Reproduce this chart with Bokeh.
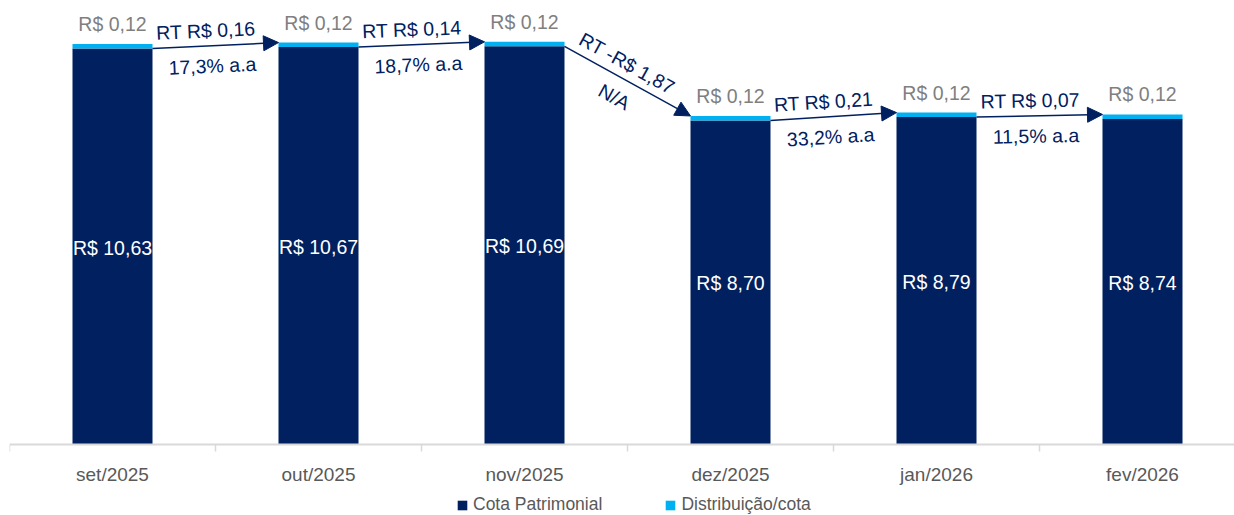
import math
from bokeh.plotting import figure
from bokeh.models import (Range1d, FixedTicker, ColumnDataSource, Arrow, NormalHead,
                          Legend, LegendItem)
from bokeh.core.properties import value
from bokeh.embed import file_html
from bokeh.resources import INLINE

# ---------------- data ----------------
categories = ["set/2025", "out/2025", "nov/2025", "dez/2025", "jan/2026", "fev/2026"]
cota = [10.63, 10.67, 10.69, 8.70, 8.79, 8.74]
distrib = [0.12, 0.12, 0.12, 0.12, 0.12, 0.12]
rt_values = [0.16, 0.14, -1.87, 0.21, 0.07]
rt_pct = [17.3, 18.7, None, 33.2, 11.5]

# ---------------- style ----------------
NAVY = "#002060"
LIGHT = "#00B0F0"
GRAY_LBL = "#7f7f7f"
AXIS_TXT = "#595959"
FONT = "Liberation Sans"

FIG_W, FIG_H = 1234, 515
LEFT = 9
BASE_Y = 444          # pixel row of the value 0 (axis line)
FRAME_W = FIG_W - LEFT
PX_PER_X = 206.0
PX_PER_Y = 37.25
X_END = FRAME_W / PX_PER_X
Y_END = BASE_Y / PX_PER_Y
Y_START = -(FIG_H - BASE_Y) / PX_PER_Y
BAR_W = 80 / PX_PER_X


def brl(v):
    s = f"{abs(v):.2f}".replace(".", ",")
    return ("-R$ " if v < 0 else "R$ ") + s


centers = [i + 0.5 for i in range(len(categories))]
totals = [c + d for c, d in zip(cota, distrib)]

p = figure(width=FIG_W, height=FIG_H, x_range=Range1d(0, X_END), y_range=Range1d(Y_START, Y_END),
           output_backend="svg", toolbar_location=None, y_axis_location=None, title=None,
           min_border_left=LEFT, min_border_right=0, min_border_top=0, min_border_bottom=0)
p.xgrid.visible = False
p.ygrid.visible = False
p.outline_line_color = None

bars_src = ColumnDataSource(dict(x=centers, cota=cota, total=totals,
                                 mid=[c / 2 for c in cota],
                                 cota_lbl=[brl(c) for c in cota],
                                 dist_lbl=[brl(d) for d in distrib]))

r1 = p.vbar(x="x", top="cota", bottom=0, width=BAR_W, source=bars_src,
            fill_color=NAVY, line_color=None)
r2 = p.vbar(x="x", top="total", bottom="cota", width=BAR_W, source=bars_src,
            fill_color=LIGHT, line_color=None)

p.text(x="x", y="mid", text="cota_lbl", source=bars_src, text_color="white",
       text_font=value(FONT), text_font_size="19.5px", text_align="center",
       text_baseline="middle", y_offset=1)
p.text(x="x", y="total", text="dist_lbl", source=bars_src, text_color=GRAY_LBL,
       text_font=value(FONT), text_font_size="19.5px", text_align="center",
       text_baseline="middle", y_offset=-20)

# arrows between bars
xs, ys, xe, ye = [], [], [], []
mx, my, ang = [], [], []
ax_off, ay_off, bx_off, by_off = [], [], [], []
top_txt, bot_txt = [], []


def rot_offset(a, along, perp):
    # offset in screen pixels: 'along' the arrow and 'perp' (positive = above it)
    return (along * math.cos(a) - perp * math.sin(a),
            -along * math.sin(a) - perp * math.cos(a))


for i in range(len(rt_values)):
    x0 = centers[i] + BAR_W / 2
    y0 = cota[i]
    x1 = centers[i + 1] - BAR_W / 2
    y1 = totals[i + 1]
    xs.append(x0); ys.append(y0); xe.append(x1); ye.append(y1)
    mx.append((x0 + x1) / 2); my.append((y0 + y1) / 2)
    a = math.atan2((y1 - y0) * PX_PER_Y, (x1 - x0) * PX_PER_X)
    ang.append(a)
    ox, oy = rot_offset(a, -9, 15.5)
    ax_off.append(ox); ay_off.append(oy)
    ox, oy = rot_offset(a, -4, -20)
    bx_off.append(ox); by_off.append(oy)
    top_txt.append("RT " + brl(rt_values[i]))
    bot_txt.append("N/A" if rt_pct[i] is None else f"{rt_pct[i]:.1f}".replace(".", ",") + "% a.a")

arr_src = ColumnDataSource(dict(xs=xs, ys=ys, xe=xe, ye=ye))
p.add_layout(Arrow(x_start="xs", y_start="ys", x_end="xe", y_end="ye", source=arr_src,
                   line_color=NAVY, line_width=1.5,
                   end=NormalHead(size=15, fill_color=NAVY, line_color=NAVY, line_width=1)))

lbl_src = ColumnDataSource(dict(x=mx, y=my, ang=ang, ax=ax_off, ay=ay_off, bx=bx_off, by=by_off,
                                top=top_txt, bot=bot_txt))
p.text(x="x", y="y", text="top", angle="ang", x_offset="ax", y_offset="ay", source=lbl_src,
       text_color=NAVY, text_font=value(FONT), text_font_size="19.5px",
       text_align="center", text_baseline="middle")
p.text(x="x", y="y", text="bot", angle="ang", x_offset="bx", y_offset="by", source=lbl_src,
       text_color=NAVY, text_font=value(FONT), text_font_size="19.5px",
       text_align="center", text_baseline="middle")

# x axis, pinned to value 0 so the frame can extend below it for the legend
ax = p.xaxis[0]
ax.fixed_location = 0
ax.ticker = FixedTicker(ticks=centers, minor_ticks=list(range(len(categories) + 1)))
ax.major_label_overrides = {c: lab for c, lab in zip(centers, categories)}
ax.major_label_text_font = FONT
ax.major_label_text_font_size = "19px"
ax.major_label_text_color = AXIS_TXT
ax.major_label_standoff = 12
ax.major_tick_out = 0
ax.major_tick_in = 0
ax.minor_tick_out = 7
ax.minor_tick_in = 0
ax.minor_tick_line_color = "#d9d9d9"
ax.minor_tick_line_width = 1.5
ax.axis_line_color = "#d9d9d9"
ax.axis_line_width = 2

legend = Legend(items=[LegendItem(label="Cota Patrimonial", renderers=[r1]),
                       LegendItem(label="Distribuição/cota", renderers=[r2])],
                orientation="horizontal", location=(447, 0),
                glyph_width=12, glyph_height=12, label_height=17, label_standoff=5,
                spacing=62, padding=0, margin=0,
                label_text_font=FONT, label_text_font_size="17.5px", label_text_color=AXIS_TXT,
                border_line_color=None, background_fill_alpha=0)
p.add_layout(legend, "center")

open("out.html", "w").write(file_html(p, INLINE))
